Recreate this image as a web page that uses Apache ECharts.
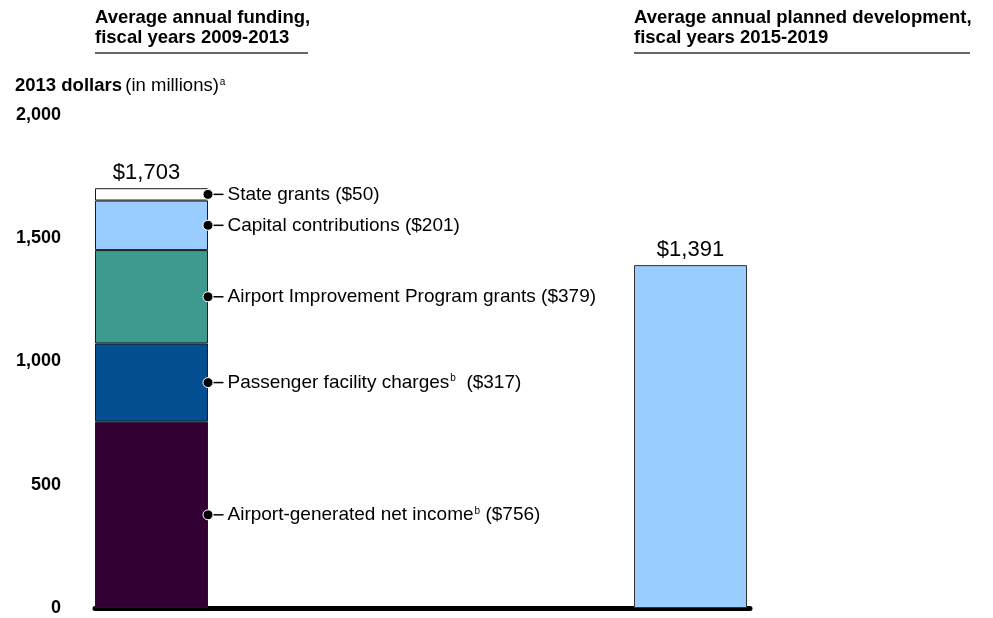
<!DOCTYPE html>
<html>
<head>
<meta charset="utf-8">
<script src="https://cdn.jsdelivr.net/npm/echarts@6/dist/echarts.min.js"></script>
<style>
  html, body { margin: 0; padding: 0; background: #fff; }
  #chart { width: 993px; height: 618px; }
</style>
</head>
<body>
<div id="chart"></div>
<script>
// Periods shown on the x axis
const periods = ['2009-2013', '2015-2019'];

// Funding sources, stacked bottom to top (millions of 2013 dollars)
const sourceNames = [
  'Airport-generated net income',
  'Passenger facility charges',
  'Airport Improvement Program grants',
  'Capital contributions',
  'State grants'
];
const sourceValues = [756, 317, 379, 201, 50];
const sourceNotes = ['b', 'b', '', '', ''];
const sourceColors = ['#330033', '#034f91', '#3d9a8f', '#99ccff', '#ffffff'];

// Planned development, 2015-2019
const plannedValue = 1391;

// Value axis ticks
const yTicks = [0, 500, 1000, 1500, 2000];

const FONT = 'Liberation Sans, Arial, Helvetica, sans-serif';
const fmtMoney = v => '$' + v.toLocaleString('en-US');
const fundingTotal = sourceValues.reduce((a, b) => a + b, 0);

const chart = echarts.init(document.getElementById('chart'), null, { renderer: 'canvas' });

const series = [];

// Stacked funding bar
sourceNames.forEach((name, i) => {
  const isTop = i === sourceNames.length - 1;
  series.push({
    name: name,
    type: 'bar',
    stack: 'amount',
    xAxisIndex: 0,
    yAxisIndex: 0,
    barWidth: 113,
    data: [sourceValues[i], '-'],
    itemStyle: { color: sourceColors[i], borderColor: '#1a1a1a', borderWidth: 1 },
    label: isTop ? {
      show: true,
      position: 'top',
      distance: 4,
      offset: [-5, 0],
      formatter: () => fmtMoney(fundingTotal),
      fontFamily: FONT,
      fontSize: 22,
      color: '#000'
    } : { show: false },
    z: 2
  });
});

// Planned development bar
series.push({
  name: 'Planned development',
  type: 'bar',
  stack: 'amount',
  xAxisIndex: 0,
  yAxisIndex: 0,
  barWidth: 113,
  data: ['-', plannedValue],
  itemStyle: { color: '#99ccff', borderColor: '#333333', borderWidth: 1 },
  label: {
    show: true,
    position: 'top',
    distance: 4,
    formatter: p => fmtMoney(p.value),
    fontFamily: FONT,
    fontSize: 22,
    color: '#000'
  },
  z: 2
});

// Callout dots at the middle of each segment, with leader and text
let running = 0;
const calloutData = sourceNames.map((name, i) => {
  const mid = running + sourceValues[i] / 2;
  running += sourceValues[i];
  return { value: [0, mid], name: name, note: sourceNotes[i], amount: sourceValues[i] };
});

series.push({
  type: 'scatter',
  xAxisIndex: 0,
  yAxisIndex: 0,
  symbol: 'circle',
  symbolSize: 10,
  symbolOffset: [56.5, 0],
  itemStyle: { color: '#000', borderColor: '#fff', borderWidth: 1, opacity: 1 },
  data: calloutData,
  label: {
    show: true,
    position: 'right',
    distance: 0,
    formatter: p => {
      const d = p.data;
      const sup = d.note ? '{sup|' + d.note + '}' + (d.name === 'Passenger facility charges' ? '{t|  }' : '{t| }') : '{t| }';
      return '{ln|}{sp|}{t|' + d.name + '}' + sup + '{t|(' + fmtMoney(d.amount) + ')}';
    },
    rich: {
      ln: { width: 10, height: 1.5, backgroundColor: '#000', verticalAlign: 'middle' },
      sp: { width: 4, height: 1 },
      t: { fontFamily: FONT, fontSize: 19, color: '#000', lineHeight: 22 },
      sup: { fontFamily: FONT, fontSize: 10, color: '#000', lineHeight: 22, verticalAlign: 'top', padding: [2, 0, 0, 1] }
    }
  },
  z: 5
});

const option = {
  animation: false,
  backgroundColor: '#fff',
  grid: [
    { left: 151.5, width: 539, top: 115, bottom: 10 },
    { left: 95, width: 655, top: 115, bottom: 10 }
  ],
  xAxis: [
    { type: 'category', gridIndex: 0, data: periods, boundaryGap: false, show: false },
    {
      type: 'category', gridIndex: 1, data: [''],
      axisLine: { show: true, lineStyle: { color: '#000', width: 5 } },
      axisTick: { show: false },
      axisLabel: { show: false }
    }
  ],
  yAxis: [
    { type: 'value', gridIndex: 0, min: yTicks[0], max: yTicks[yTicks.length - 1], interval: 500, show: false },
    {
      type: 'value', gridIndex: 1,
      min: yTicks[0], max: yTicks[yTicks.length - 1], interval: 500,
      axisLine: { show: false },
      axisTick: { show: false },
      splitLine: { show: false },
      axisLabel: {
        margin: 34,
        padding: [4, 0, 0, 0],
        fontFamily: FONT,
        fontSize: 18,
        fontWeight: 'bold',
        color: '#000',
        formatter: v => v.toLocaleString('en-US')
      }
    }
  ],
  series: series,
  graphic: [
    {
      type: 'text', left: 95, top: 8,
      style: {
        text: 'Average annual funding,\nfiscal years 2009-2013',
        font: 'bold 18.5px ' + FONT, fill: '#000', lineHeight: 20
      }
    },
    {
      type: 'line', shape: { x1: 95, y1: 53, x2: 308, y2: 53 },
      style: { stroke: '#333', lineWidth: 1.5 }
    },
    {
      type: 'text', left: 634, top: 8,
      style: {
        text: 'Average annual planned development,\nfiscal years 2015-2019',
        font: 'bold 18.5px ' + FONT, fill: '#000', lineHeight: 20
      }
    },
    {
      type: 'line', shape: { x1: 634, y1: 53, x2: 970, y2: 53 },
      style: { stroke: '#333', lineWidth: 1.5 }
    },
    {
      type: 'text', left: 15, top: 75,
      style: {
        text: '{b|2013 dollars} {n|(in millions)}{s|a}',
        rich: {
          b: { font: 'bold 18.5px ' + FONT, fill: '#000', lineHeight: 22 },
          n: { font: '18.5px ' + FONT, fill: '#000', lineHeight: 22 },
          s: { font: '10px ' + FONT, fill: '#000', lineHeight: 22, verticalAlign: 'top', padding: [2, 0, 0, 1] }
        }
      }
    }
  ]
};

chart.setOption(option);
</script>
</body>
</html>
